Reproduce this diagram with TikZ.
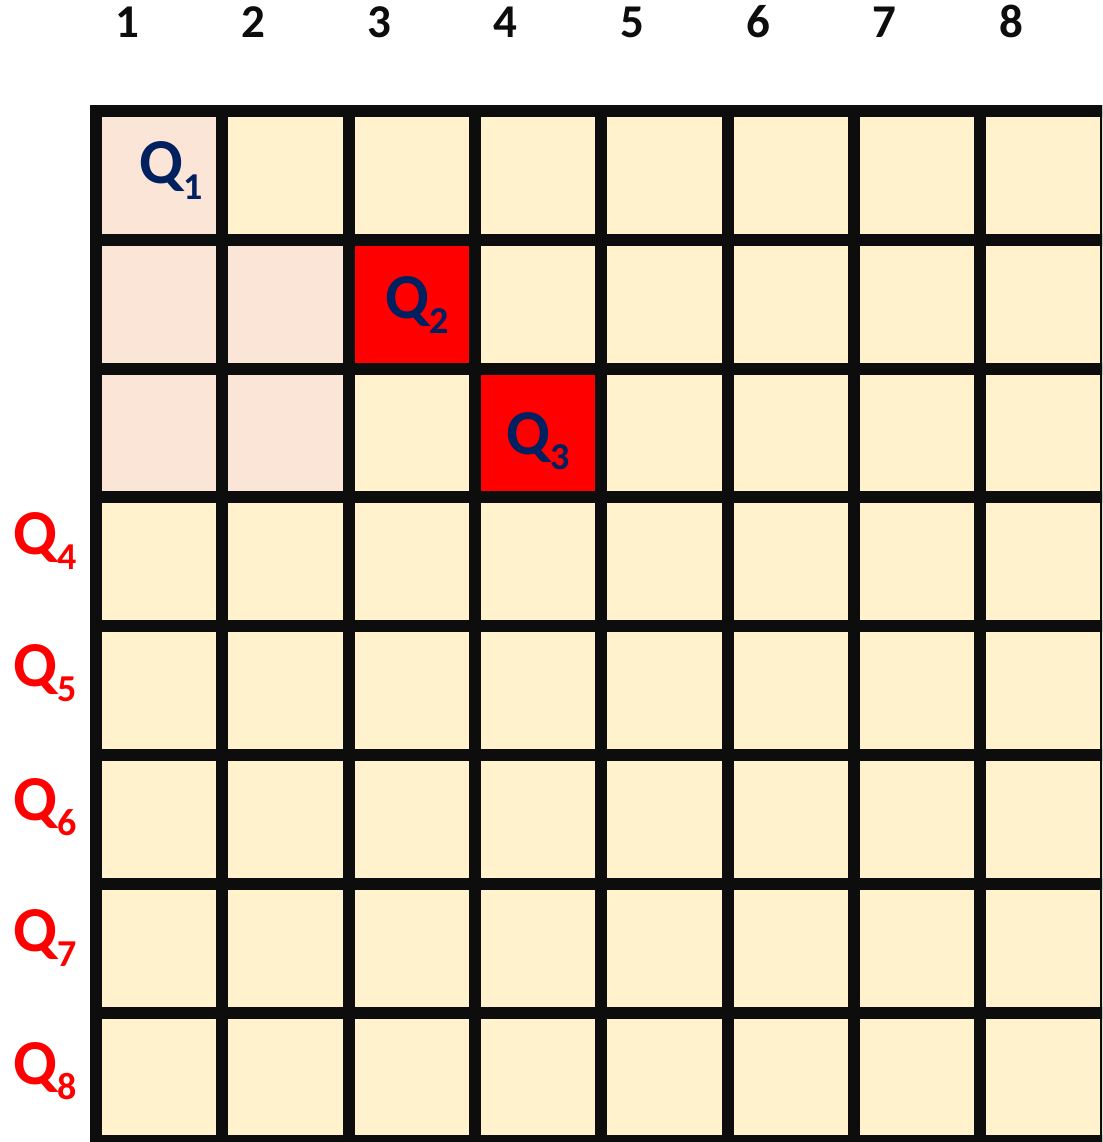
\documentclass[tikz,border=0pt]{standalone}
\usepackage{fontspec}
\setmainfont{Carlito}
\definecolor{cream}{HTML}{FFF2CC}
\definecolor{pinkc}{HTML}{FBE5D6}
\definecolor{redc}{HTML}{FF0000}
\definecolor{navy}{HTML}{002060}
\definecolor{gridline}{HTML}{0D0D0D}
\newcommand{\qlab}[1]{Q\raisebox{-15pt}{\fontsize{38}{38}\selectfont #1}}
\tikzset{
  collab/.style={font=\fontsize{47}{47}\selectfont\bfseries, text=gridline, anchor=base, inner sep=0pt},
  qblue/.style={font=\fontsize{64}{64}\selectfont\bfseries, text=navy, anchor=base west, inner sep=0pt},
  qred/.style={font=\fontsize{64}{64}\selectfont\bfseries, text=redc, anchor=base west, inner sep=0pt},
  gridl/.style={draw=gridline, line width=12pt}
}
\begin{document}
\begin{tikzpicture}[x=1pt,y=-1pt]
\useasboundingbox (0,0) rectangle (1102,1142);
\fill[white] (0,0) rectangle (1102,1142);
\clip (0,0) rectangle (1102,1142);
\pgfmathsetmacro{\cw}{126.3}
\pgfmathsetmacro{\ch}{128.8}
% cells
\fill[cream] (96,111) rectangle ({96+8*\cw},{111+8*\ch});
\foreach \r/\c in {1/1,2/1,2/2,3/1,3/2}{
  \fill[pinkc] ({96+(\c-1)*\cw},{111+(\r-1)*\ch}) rectangle ({96+\c*\cw},{111+\r*\ch});
}
\foreach \r/\c in {2/3,3/4}{
  \fill[redc] ({96+(\c-1)*\cw},{111+(\r-1)*\ch}) rectangle ({96+\c*\cw},{111+\r*\ch});
}
% grid lines
\foreach \k in {0,...,8}{
  \draw[gridl] ({96+\k*\cw},{111-6}) -- ({96+\k*\cw},{111+8*\ch+6});
  \draw[gridl] ({96-6},{111+\k*\ch}) -- ({96+8*\cw+6},{111+\k*\ch});
}
% column numbers
\foreach \i in {1,...,8}{
  \node[collab] (col\i) at ({127+(\i-1)*\cw},38) {\i};
}
% queens placed
\node[qblue] (q1) at (139,184) {\qlab{1}};
\node[qblue] (q2) at (385,318) {\qlab{2}};
\node[qblue] (q3) at (506,454) {\qlab{3}};
% pending queens
\foreach \i/\y in {4/554,5/686.5,6/820,7/951.5,8/1084}{
  \node[qred] (q\i) at (13,\y) {\qlab{\i}};
}
\end{tikzpicture}
\end{document}
